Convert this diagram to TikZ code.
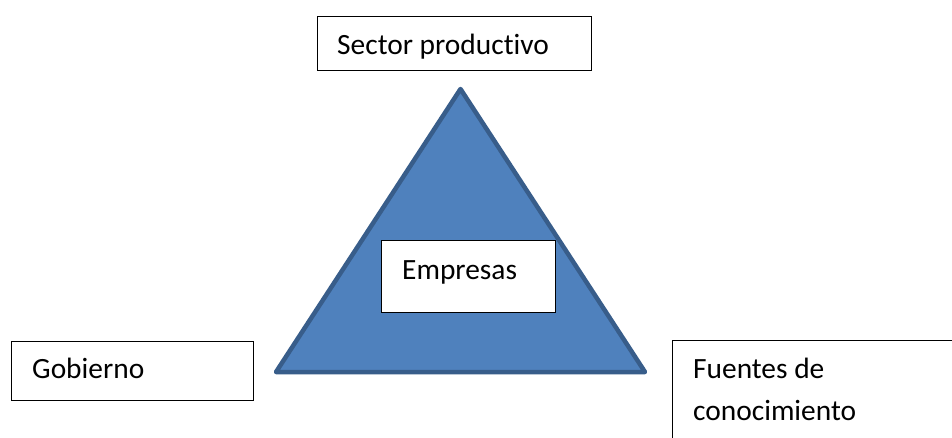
\documentclass[tikz,border=0pt]{standalone}
\usepackage{fontspec}
\setmainfont{Carlito}[Ligatures=NoCommon]
\begin{document}
\begin{tikzpicture}[x=1pt,y=-1pt,
  box/.style={draw=black,line width=1pt,fill=white,inner sep=0pt,anchor=north west},
  lbl/.style={inner sep=0pt,anchor=base west,font=\fontsize{29.4}{42}\selectfont,text=black},
  tri/.style={fill=triFill,draw=triEdge,line width=4.5pt,line join=round}]
  \definecolor{triFill}{HTML}{4F81BD}
  \definecolor{triEdge}{HTML}{385D8A}
  \clip (0,0) rectangle (952,437);
  \fill[white] (0,0) rectangle (952,437);

  % central triangle
  \coordinate (apex) at (460.5,89);
  \coordinate (bl) at (276,372);
  \coordinate (br) at (645,372);
  \draw[tri] (apex) -- (bl) -- (br) -- cycle;

  % boxes
  \node[box,minimum width=274pt,minimum height=54pt] (sector) at (317,16) {};
  \node[box,minimum width=174pt,minimum height=72pt] (empresas) at (381,240) {};
  \node[box,minimum width=242pt,minimum height=59pt] (gobierno) at (11,341) {};
  \node[box,minimum width=300pt,minimum height=120pt] (fuentes) at (672,340) {};

  % labels
  \node[lbl] (tsector) at (337,54) {Sector productivo};
  \node[lbl] (tempresas) at (402,279) {Empresas};
  \node[lbl] (tgobierno) at (32,378) {Gobierno};
  \node[lbl] (tfuentes1) at (693,378) {Fuentes de};
  \node[lbl] (tfuentes2) at (693,420) {conocimiento};
\end{tikzpicture}
\end{document}
